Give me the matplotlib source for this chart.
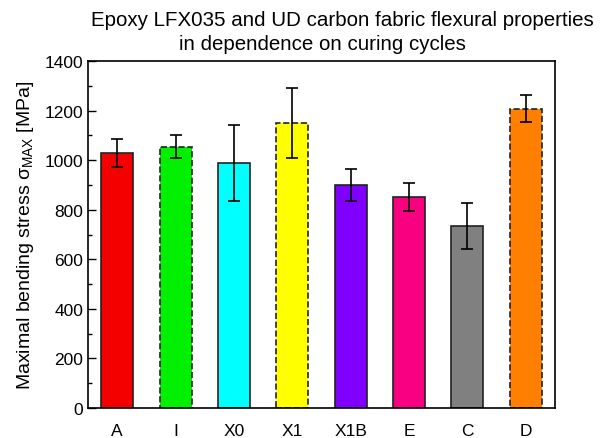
import matplotlib.pyplot as plt
import numpy as np

plt.rcParams['font.family'] = ['Liberation Sans', 'DejaVu Sans']
plt.rcParams['mathtext.default'] = 'regular'

samples = ['A', 'I', 'X0', 'X1', 'X1B', 'E', 'C', 'D']
stress = [1030, 1055, 990, 1150, 900, 851, 734, 1208]
stress_err = [57, 45, 153, 140, 63, 57, 93, 55]
colors = ['#f40000', '#00f000', '#00ffff', '#ffff00', '#8000ff', '#f8007f', '#808080', '#ff8000']
dashed = [False, True, False, True, False, False, False, True]

fig = plt.figure(figsize=(6.01, 4.39), dpi=100)
ax = fig.add_axes([88 / 601, 30 / 439, 467 / 601, 347 / 439])

x = np.arange(1, len(samples) + 1)
for i in range(len(samples)):
    ls = '--' if dashed[i] else '-'
    ax.bar(x[i], stress[i], width=0.55, color=colors[i], edgecolor='#222222',
           linewidth=1.2, linestyle=ls, zorder=2)
ax.errorbar(x, stress, yerr=stress_err, fmt='none', ecolor='black',
            elinewidth=1.2, capsize=4, capthick=1.2, zorder=3)

ax.set_xlim(0.5, 8.5)
ax.set_ylim(0, 1400)
ax.set_xticks(x)
ax.set_xticklabels(samples, fontsize=12.5)
ax.set_yticks(np.arange(0, 1401, 200))
ax.set_yticks(np.arange(100, 1400, 200), minor=True)
ax.tick_params(axis='y', which='major', direction='in', length=6, labelsize=12.5, width=1)
ax.tick_params(axis='y', which='minor', direction='in', length=3, width=1)
ax.tick_params(axis='x', length=0, labelsize=12.5, pad=11)
for s in ax.spines.values():
    s.set_linewidth(1.2)

ax.set_ylabel('Maximal bending stress σ$_{MAX}$ [MPa]', fontsize=14, labelpad=6)
fig.text(342 / 601, 1 - 20 / 439, 'Epoxy LFX035 and UD carbon fabric flexural properties',
         ha='center', va='center', fontsize=14.8)
fig.text(322 / 601, 1 - 45 / 439, 'in dependence on curing cycles',
         ha='center', va='center', fontsize=14.8)

plt.savefig('out.png', dpi=100)
